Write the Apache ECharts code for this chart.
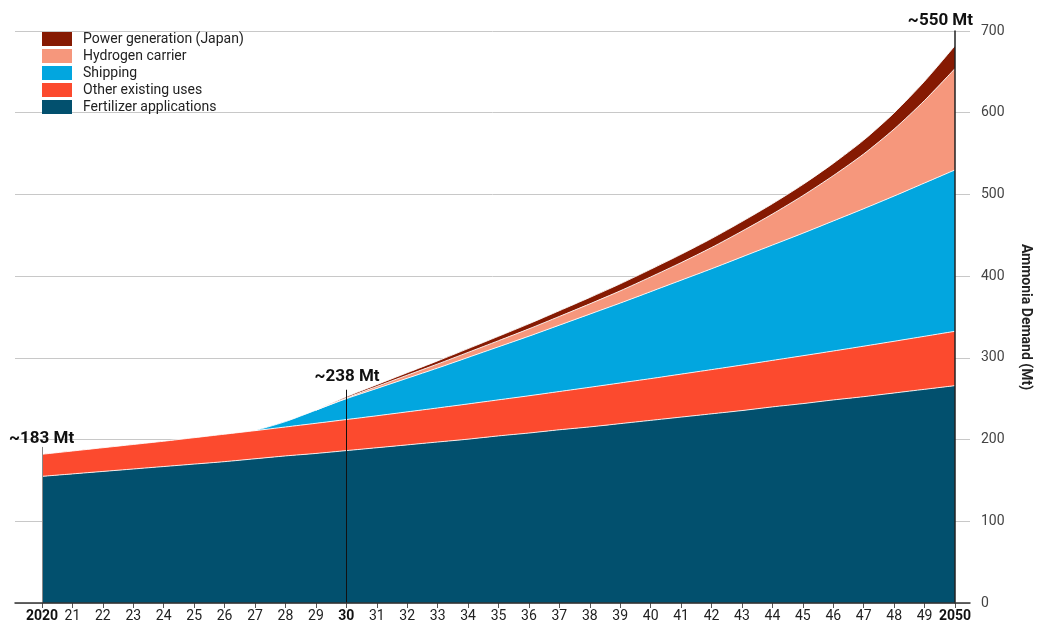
<!DOCTYPE html>
<html>
<head>
<meta charset="utf-8">
<script src="https://cdn.jsdelivr.net/npm/echarts@6/dist/echarts.min.js"></script>
<style>html,body{margin:0;padding:0;background:#fff}#c{width:1038px;height:623px}</style>
</head>
<body>
<div id="c"></div>
<script>
const years = ['2020','21','22','23','24','25','26','27','28','29','30','31','32','33','34','35','36','37','38','39','40','41','42','43','44','45','46','47','48','49','2050'];
const boldYears = ['2020','30','2050'];
const fertilizer = [155,158,161,164,167,170,173,176.5,180,183,186.5,190,193.5,197,200.5,204.5,208,212,215.5,219.5,223.5,227.5,231.5,235.5,240,244,248.5,252.5,257,261.5,266];
const otherUses = [27,28,29,30,31,32.3,33.6,34.4,35.4,36.9,38,39.1,40.4,41.7,43.1,44.1,45.6,46.8,48.5,49.8,51.1,52.6,54.1,55.7,56.9,58.6,59.9,61.8,63.3,64.9,66.5];
const shipping = [null,null,null,null,null,null,null,0,6.6,16.1,25.5,33.4,41.1,48.8,56.9,64.9,72.9,81.2,89.5,97.7,106.4,114.9,123.4,132.3,141.1,149.9,159.1,168.2,177.7,187.6,197.5];
const hydrogen = [null,null,null,null,null,null,null,null,null,0,1,2.5,3.8,5,6.2,7.5,9,10.7,12.6,15,18,21.5,26,31.5,38,46,55.5,67,82,101,124];
const power = [null,null,null,null,null,null,null,null,null,0,1.5,2.2,3,3.8,4.6,5.4,6.2,7,7.8,8.6,9.4,10.2,11,11.8,12.6,13.6,15,17,19.8,23.5,28];
const yTicks = [0,100,200,300,400,500,600,700];
const seriesNames = ['Fertilizer applications','Other existing uses','Shipping','Hydrogen carrier','Power generation (Japan)'];
const legendOrder = ['Power generation (Japan)','Hydrogen carrier','Shipping','Other existing uses','Fertilizer applications'];
const colors = ['#02506E','#FC4A2E','#02A6DF','#F6977C','#861A02'];
const annotations = [
  {text:'~183 Mt', x:9, y:439, align:'left'},
  {text:'~238 Mt', x:347, y:377, align:'center'},
  {text:'~550 Mt', x:973, y:21, align:'right'}
];

const chart = echarts.init(document.getElementById('c'), null, {renderer:'canvas'});
const dataSets = [fertilizer, otherUses, shipping, hydrogen, power];
const series = dataSets.map((d, i) => ({
  name: seriesNames[i],
  type: 'line',
  stack: 'total',
  xAxisIndex: 1,
  yAxisIndex: 1,
  data: d,
  smooth: 0.25,
  showSymbol: false,
  symbol: 'none',
  color: colors[i],
  lineStyle: {color: 'rgba(255,255,255,0.85)', width: 1},
  areaStyle: {color: colors[i], opacity: 1},
  silent: true
}));
series[4].markLine = {
  silent: true,
  symbol: ['none','none'],
  label: {show: false},
  data: [
    [{coord: ['2020', 0], lineStyle: {color: '#888', width: 1, type: 'solid'}}, {coord: ['2020', 191]}],
    [{coord: ['30', 0], lineStyle: {color: '#111', width: 1, type: 'solid'}}, {coord: ['30', 261]}]
  ]
};

chart.setOption({
  animation: false,
  textStyle: {fontFamily: 'Roboto'},
  grid: [
    {left: 15, right: 68, top: 31, bottom: 20, containLabel: false, outerBoundsMode: 'none'},
    {left: 42, right: 83, top: 31, bottom: 20, containLabel: false, outerBoundsMode: 'none'}
  ],
  legend: {
    data: legendOrder,
    orient: 'vertical',
    left: 42,
    top: 32,
    padding: 0,
    itemWidth: 30,
    itemHeight: 14,
    itemGap: 3,
    icon: 'rect',
    selectedMode: false,
    textStyle: {fontSize: 14, color: '#222', fontFamily: 'Roboto', padding: [0,0,0,6]}
  },
  xAxis: [
    {gridIndex: 0, type: 'value', min: 0, max: 1, show: true, z: 10,
     axisLine: {show: true, onZero: false, lineStyle: {color: '#333', width: 1.5}},
     axisTick: {show: false}, axisLabel: {show: false}, splitLine: {show: false}},
    {gridIndex: 1, type: 'category', data: years, boundaryGap: false,
     axisLine: {show: false, onZero: false},
     axisTick: {show: true, length: 5, lineStyle: {color: '#555'}, interval: 0},
     axisLabel: {interval: 0, margin: 6, fontSize: 14, color: '#222', fontFamily: 'Roboto',
       formatter: v => boldYears.includes(v) ? '{b|' + v + '}' : v,
       rich: {b: {fontWeight: 'bold', fontSize: 14, color: '#111', fontFamily: 'Roboto'}}},
     splitLine: {show: false}}
  ],
  yAxis: [
    {gridIndex: 0, type: 'value', position: 'right', min: yTicks[0], max: yTicks[yTicks.length-1], interval: 100,
     axisLine: {show: false, onZero: false}, axisTick: {show: false}, axisLabel: {show: false},
     splitLine: {show: true, lineStyle: {color: '#c8c8c8', width: 1}}},
    {gridIndex: 1, type: 'value', position: 'right', min: yTicks[0], max: yTicks[yTicks.length-1], interval: 100, z: 10,
     name: 'Ammonia Demand (Mt)', nameLocation: 'middle', nameGap: 63, nameRotate: -90,
     nameTextStyle: {fontSize: 14, fontWeight: 'bold', color: '#222', fontFamily: 'Roboto'},
     axisLine: {show: true, onZero: false, lineStyle: {color: '#222', width: 1.5}},
     axisTick: {show: false},
     axisLabel: {margin: 26, fontSize: 14, color: '#444', fontFamily: 'Roboto'},
     splitLine: {show: false}}
  ],
  series: series,
  graphic: annotations.map(a => ({
    type: 'text', z: 100,
    style: {text: a.text, x: a.x, y: a.y, textAlign: a.align, textVerticalAlign: 'middle',
      font: 'bold 17px Roboto', fill: '#111'}
  }))
});
</script>
</body>
</html>
